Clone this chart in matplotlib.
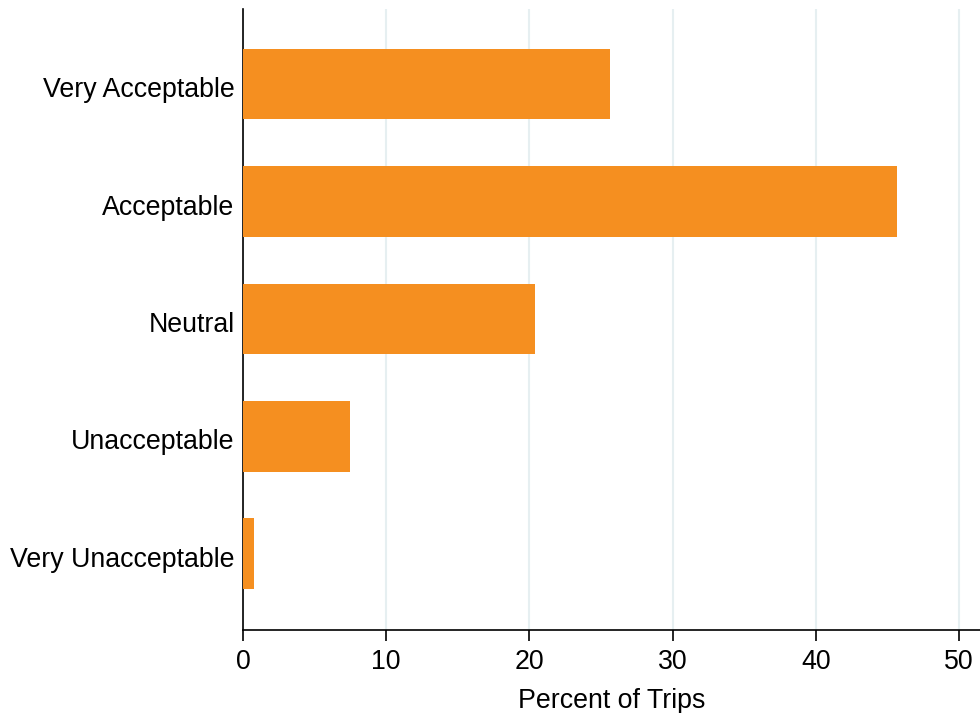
import matplotlib
matplotlib.use("Agg")
import matplotlib.pyplot as plt
import matplotlib.transforms as mtransforms

# --- Data ---
categories = ["Very Acceptable", "Acceptable", "Neutral", "Unacceptable", "Very Unacceptable"]
percent = [25.6, 45.7, 20.4, 7.5, 0.8]
xticks = [0, 10, 20, 30, 40, 50]

BAR_COLOR = "#F58F20"
GRID_COLOR = "#E6EFF1"

plt.rcParams["font.family"] = ["Liberation Sans", "DejaVu Sans"]

fig = plt.figure(figsize=(9.8, 7.13), dpi=100)
ax = fig.add_axes([243 / 980, 1 - 630 / 713, 737 / 980, 621 / 713])

# top category drawn at the top
pos = list(range(len(categories)))[::-1]
ax.barh(pos, percent, height=0.6, color=BAR_COLOR, zorder=3)

ax.set_xlim(0, 51.47)
ax.set_ylim(-0.65, 4.64)
ax.set_yticks(pos)
ax.set_yticklabels(categories)
ax.set_xticks(xticks)

ax.xaxis.grid(True, color=GRID_COLOR, linewidth=1.5, zorder=0)
ax.yaxis.grid(False)

for side in ["top", "right"]:
    ax.spines[side].set_visible(False)
for side in ["left", "bottom"]:
    ax.spines[side].set_linewidth(1.2)

ax.tick_params(axis="y", length=0, pad=6, labelsize=19.3)
ax.tick_params(axis="x", length=8, width=1.2, pad=6, labelsize=19.3)
ax.set_xlabel("Percent of Trips", fontsize=19.3, labelpad=9)

# nudge category labels down a little, like the original
shift = mtransforms.ScaledTranslation(0, -3 / 100, fig.dpi_scale_trans)
for lbl in ax.get_yticklabels():
    lbl.set_transform(lbl.get_transform() + shift)

fig.savefig("out.png", dpi=100)
